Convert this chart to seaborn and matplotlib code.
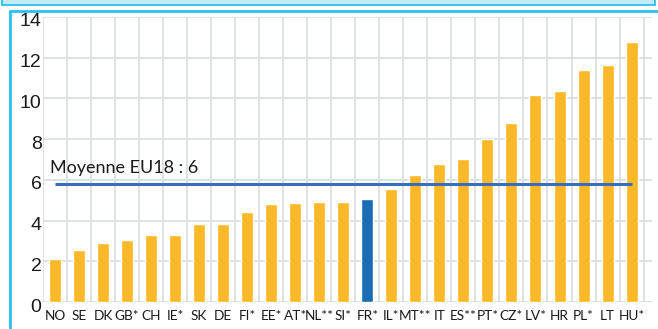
import matplotlib
matplotlib.use("Agg")
import matplotlib.pyplot as plt
import matplotlib.transforms as mtransforms
import numpy as np
import pandas as pd
import seaborn as sns
from matplotlib.patches import Rectangle
from matplotlib.lines import Line2D

# Countries (asterisks as published) and their values
countries = ["NO", "SE", "DK", "GB*", "CH", "IE*", "SK", "DE", "FI*", "EE*",
             "AT*", "NL**", "SI*", "FR*", "IL*", "MT**", "IT", "ES**", "PT*",
             "CZ*", "LV*", "HR", "PL*", "LT", "HU*"]
values = [2.13, 2.54, 2.92, 3.03, 3.28, 3.31, 3.83, 3.84, 4.42, 4.80,
          4.86, 4.90, 4.92, 5.08, 5.57, 6.26, 6.76, 7.01, 8.03,
          8.81, 10.15, 10.35, 11.41, 11.66, 12.75]
highlight = "FR*"
eu_mean = 5.8
y_ticks = [0, 2, 4, 6, 8, 10, 12, 14]

ORANGE = "#FDB827"
BLUE_BAR = "#1A6DB4"
MEAN_LINE = "#3A6DBE"
GRID = "#D9DDE0"
CYAN = "#2BC0EE"
TEXT = "#1A1A1A"

sns.set_theme(style="white")
plt.rcParams["font.family"] = ["Liberation Sans", "DejaVu Sans"]

W, H = 658, 329
fig = plt.figure(figsize=(W / 100, H / 100), dpi=100)
ax = fig.add_axes([43 / W, 27 / H, (652 - 43) / W, (312 - 27) / H])

df = pd.DataFrame({
    "pays": countries,
    "valeur": values,
    "groupe": ["France" if c == highlight else "Autres" for c in countries],
})
sns.barplot(data=df, x="pays", y="valeur", hue="groupe",
            palette={"Autres": ORANGE, "France": BLUE_BAR},
            width=0.5, dodge=False, legend=False, saturation=1, ax=ax)

# EU average line across all countries
ax.hlines(eu_mean, 0, len(countries) - 1, color=MEAN_LINE, lw=2.2, zorder=4)
ax.text(-0.22, 6.35, f"Moyenne EU18 : {eu_mean:.0f}", fontsize=13,
        color=TEXT, family=["Lato", "DejaVu Sans"], va="baseline", ha="left")

ax.set_xlim(-0.5, len(countries) - 0.15)
ax.set_ylim(0, 14)
ax.set_yticks(y_ticks)
ax.set_xticks(np.arange(-0.5, len(countries), 1), minor=True)
ax.set_axisbelow(True)
ax.grid(axis="y", which="major", color=GRID, lw=1.2)
ax.grid(axis="x", which="minor", color=GRID, lw=1.2)
ax.grid(axis="x", which="major", visible=False)
for s in ax.spines.values():
    s.set_visible(False)

ax.set_xlabel("")
ax.set_ylabel("")
ax.tick_params(axis="y", length=0, pad=1, labelsize=14, labelcolor=TEXT)
ax.tick_params(axis="x", which="both", length=0, pad=6, labelcolor=TEXT)
ax.set_xticks(range(len(countries)))
ax.set_xticklabels(countries, family=["Lato", "DejaVu Sans"], fontsize=9.8)

# y labels sit slightly below their gridlines
shift = mtransforms.ScaledTranslation(0, -3 / 100, fig.dpi_scale_trans)
for lab in ax.get_yticklabels():
    lab.set_transform(lab.get_transform() + shift)

# Frame decoration
fig.add_artist(Rectangle((2 / W, 1 - 4.5 / H), (655 - 2) / W, 6 / H,
                         transform=fig.transFigure, facecolor="#C4E9F7",
                         edgecolor=CYAN, lw=1.3, clip_on=False))
fig.add_artist(Line2D([10 / W, 1], [1 - 10.5 / H] * 2, transform=fig.transFigure,
                      color=CYAN, lw=2))
fig.add_artist(Line2D([10 / W] * 2, [0, 1 - 10.5 / H], transform=fig.transFigure,
                      color=CYAN, lw=2))

fig.savefig("out.png", dpi=100)
